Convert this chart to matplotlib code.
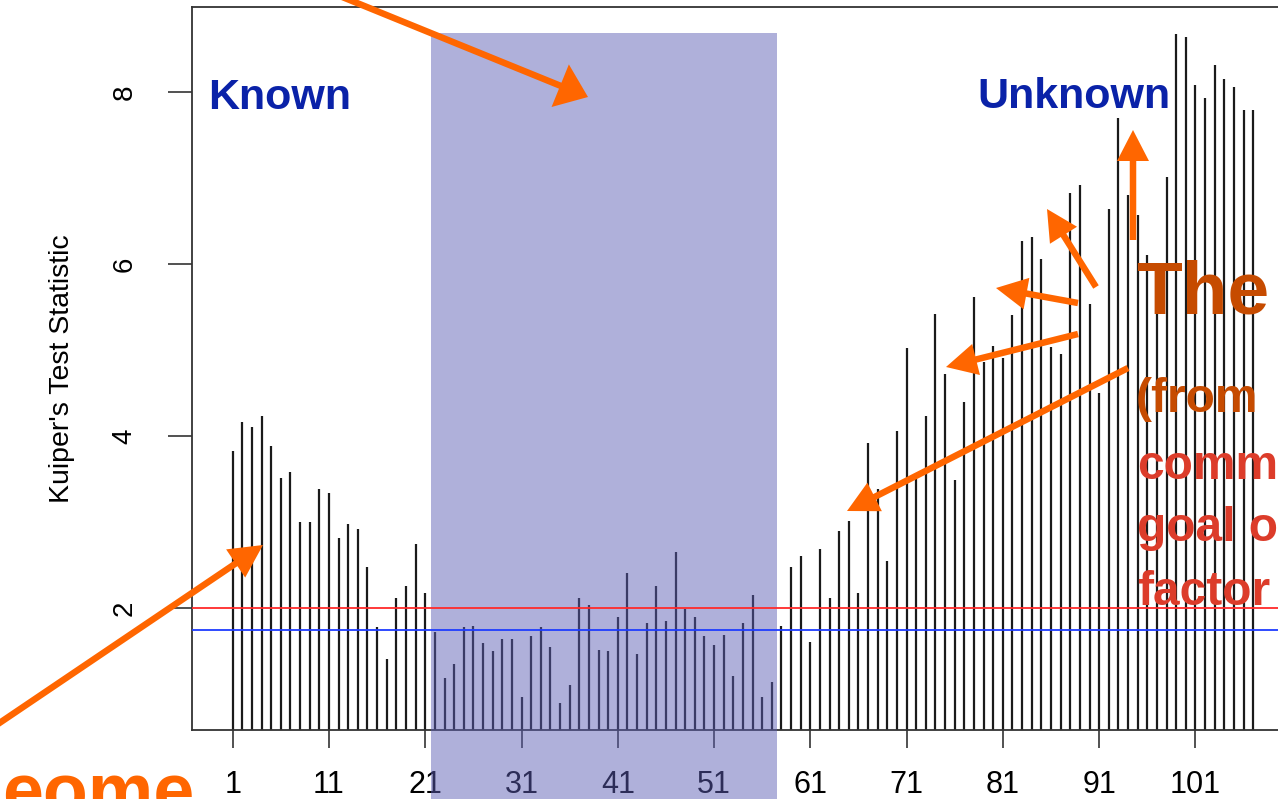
import numpy as np
import matplotlib
matplotlib.use('Agg')
import matplotlib.pyplot as plt
from matplotlib.patches import Rectangle, FancyArrow

plt.rcParams['font.family'] = ['Liberation Sans', 'DejaVu Sans']

# Kuiper statistic for each position (1..107)
kuiper = [3.83, 4.16, 4.11, 4.23, 3.89, 3.51, 3.58, 3.00, 3.00, 3.39,
          3.34, 2.82, 2.98, 2.92, 2.48, 1.78, 1.41, 2.12, 2.26, 2.75,
          2.17, 1.72, 1.18, 1.35, 1.78, 1.79, 1.59, 1.50, 1.64, 1.64,
          0.97, 1.67, 1.78, 1.55, 0.90, 1.11, 2.12, 2.03, 1.51, 1.50,
          1.90, 2.41, 1.47, 1.82, 2.26, 1.85, 2.65, 1.99, 1.89, 1.68,
          1.57, 1.69, 1.21, 1.83, 2.15, 0.96, 1.14, 1.79, 2.48, 2.61,
          1.60, 2.69, 2.12, 2.90, 3.01, 2.18, 3.92, 3.39, 2.55, 4.06,
          5.02, 3.50, 4.23, 5.42, 4.72, 3.49, 4.40, 5.62, 4.86, 5.05,
          4.91, 5.41, 6.27, 6.32, 6.06, 5.04, 4.95, 6.83, 6.92, 5.54,
          4.50, 6.64, 7.70, 6.81, 6.57, 6.11, 5.70, 7.01, 8.68, 8.64,
          8.09, 7.93, 8.32, 8.15, 8.06, 7.80, 7.80]
positions = np.arange(1, len(kuiper) + 1)
x_ticks = [1, 11, 21, 31, 41, 51, 61, 71, 81, 91, 101]
y_ticks = [2, 4, 6, 8]
cut_red = 2.0
cut_blue = 1.748
band = (21.6, 57.55, 8.686)   # shaded range: start, end, top

fig = plt.figure(figsize=(12.78, 7.99), dpi=100)
ax = fig.add_axes([0.15, 0.0864, 0.8625, 0.9045])

ax.vlines(positions, 0, kuiper, colors='#1a1a1a', lw=1.6, zorder=2)
ax.set_xlim(-3.26, 111.24)
ax.set_ylim(0.581, 8.99)

ax.set_xticks(x_ticks)
ax.set_xticklabels([str(t) for t in x_ticks], fontsize=22)
ax.set_yticks(y_ticks)
ax.set_yticklabels([str(t) for t in y_ticks], fontsize=20, rotation=90, va='center')
ax.tick_params(axis='x', length=13, width=1.2, pad=16, color='#333333')
ax.tick_params(axis='y', length=17, width=1.2, pad=22, color='#333333')
for s in ax.spines.values():
    s.set_color('#333333')
    s.set_linewidth(1.3)
ax.set_ylabel("Kuiper's Test Statistic", fontsize=20.5, labelpad=26)

# shaded window, running off the bottom of the slide
ax.add_patch(Rectangle((band[0], -0.6), band[1] - band[0], band[2] + 0.6,
                       transform=ax.transData, clip_on=False, zorder=3,
                       facecolor='#5C5EB4', alpha=0.49, lw=0))

ax.axhline(cut_red, color='#FF2A2A', lw=1.3, zorder=4)
ax.axhline(cut_blue, color='#1E3CFF', lw=1.3, zorder=4)

# slide overlay in pixel units
ov = fig.add_axes([0, 0, 1, 1], zorder=10)
ov.set_xlim(0, 1278)
ov.set_ylim(799, 0)
ov.axis('off')

blue = '#0A22A8'
brown = '#C64B00'
red = '#DC3C2A'
orange = '#FF6600'

ov.text(208, 109, 'Known', fontsize=31, fontweight='bold', color=blue, va='baseline')
ov.text(977, 108, 'Unknown', fontsize=31, fontweight='bold', color=blue, va='baseline')
ov.text(1136, 314, 'The', fontsize=54, fontweight='bold', color=brown, va='baseline')
ov.text(1136, 412, '(from', fontsize=34.5, fontweight='bold', color=brown, va='baseline')
ov.text(1137, 479, 'comm', fontsize=34.5, fontweight='bold', color=red, va='baseline')
ov.text(1137, 541, 'goal o', fontsize=34.5, fontweight='bold', color=red, va='baseline')
ov.text(1137, 605, 'factor', fontsize=34.5, fontweight='bold', color=red, va='baseline')
ov.text(2, 816, 'eome', fontsize=53, fontweight='bold', color=orange, va='baseline')

arrows = [
    ((330, -8), (588, 97), 46, 30),
    ((-5, 726), (263, 545), 34, 33),
    ((1133, 240), (1133, 130), 32, 31),
    ((1096, 287), (1047, 209), 32, 31),
    ((1078, 303), (996, 288), 32, 31),
    ((1078, 334), (946, 367), 32, 31),
    ((1128, 368), (847, 511), 32, 31),
]
for (x0, y0), (x1, y1), hw, hl in arrows:
    ov.add_patch(FancyArrow(x0, y0, x1 - x0, y1 - y0, width=6.5, head_width=hw,
                            head_length=hl, length_includes_head=True,
                            color=orange, lw=0))

fig.savefig('out.png', dpi=100)
